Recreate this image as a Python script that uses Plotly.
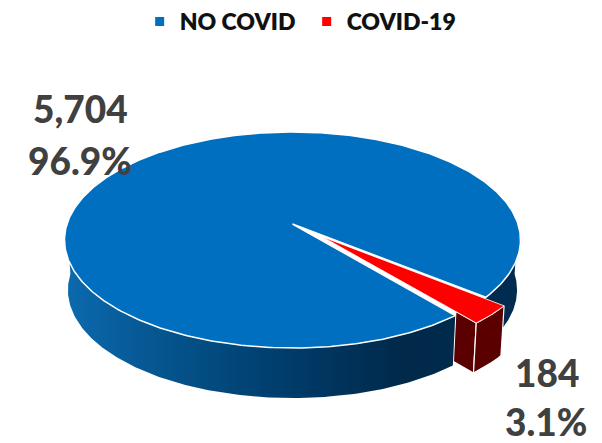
import numpy as np
import plotly.graph_objects as go

categories = ["NO COVID", "COVID-19"]
values = [5704, 184]
value_labels = ["5,704", "184"]
percent_labels = ["96.9%", "3.1%"]

# Drawing geometry of the perspective disc (page pixels)
CX, CY, RX, RY, A = 292.5, 240.0, 228.0, 108.0, -0.148
DEPTH, BOTTOM_SCALE = 50.0, 0.985
SLICE_CENTER = 44.6
EXPLODE = (0.129, 0.118)
SLICE_RADIUS = 0.917
WALL_FROM = 0.88
BLUE, RED = "#006FBF", "#FF0000"
DARK_RED = "#5A0000"
SIDE_SCALE = [[0, "#0B6AAE"], [0.21, "#05558F"], [0.45, "#003F6F"], [0.74, "#00294A"], [1, "#002C50"]]


def project(u, v, low=False):
    u, v = np.asarray(u, float), np.asarray(v, float)
    d = 1 + A * v
    x = RX * np.sqrt(1 - A * A) * u / d
    y = CY + RY * (v + A) / d
    if low:
        return CX + x * BOTTOM_SCALE, y + DEPTH
    return CX + x, y


def arc(a0, a1, radius=1.0, off=(0, 0), n=160):
    t = np.radians(np.linspace(a0, a1, n))
    return off[0] + radius * np.cos(t), off[1] + radius * np.sin(t)


def ring(a0, a1, radius=1.0, off=(0, 0)):
    u, v = arc(a0, a1, radius, off)
    x0, y0 = project(u, v)
    x1, y1 = project(u, v, low=True)
    return np.r_[x0, x1[::-1], x0[0]], np.r_[y0, y1[::-1], y0[0]]


span = 360 * values[1] / sum(values)
a_start, a_end = SLICE_CENTER - span / 2, SLICE_CENTER + span / 2

fig = go.Figure()

# radial wall of the pulled-out slice (only its part beyond the rim shows)
cos_e, sin_e = np.cos(np.radians(a_end)), np.sin(np.radians(a_end))
wu = EXPLODE[0] + SLICE_RADIUS * cos_e * np.array([WALL_FROM, 1.0])
wv = EXPLODE[1] + SLICE_RADIUS * sin_e * np.array([WALL_FROM, 1.0])
wx0, wy0 = project(wu, wv)
wx1, wy1 = project(wu, wv, low=True)
fig.add_trace(go.Scatter(x=np.r_[wx0, wx1[::-1], wx0[0]], y=np.r_[wy0, wy1[::-1], wy0[0]],
                         mode="lines", fill="toself", fillcolor=DARK_RED,
                         line=dict(color="white", width=1.2), showlegend=False, hoverinfo="skip"))

# blue side wall, split by the notch
lx, ly = ring(a_end, 180)
rx, ry = ring(0, a_start)
fig.add_trace(go.Scatter(x=np.r_[lx, None, rx], y=np.r_[ly, None, ry],
                         mode="lines", fill="toself", line=dict(width=0, color="rgba(0,0,0,0)"),
                         fillgradient=dict(type="horizontal", colorscale=SIDE_SCALE),
                         showlegend=False, hoverinfo="skip"))

# blue top
u, v = arc(a_end, a_start + 360, n=500)
tx, ty = project(np.r_[0, u, 0], np.r_[0, v, 0])
fig.add_trace(go.Scatter(x=tx, y=ty, mode="lines", fill="toself", fillcolor=BLUE,
                         line=dict(color="white", width=1.5), showlegend=False, hoverinfo="skip"))

# red outer face
fx, fy = ring(a_start, a_end, SLICE_RADIUS, EXPLODE)
fig.add_trace(go.Scatter(x=fx, y=fy, mode="lines", fill="toself", fillcolor=DARK_RED,
                         line=dict(color="white", width=1.2), showlegend=False, hoverinfo="skip"))

# red top
u, v = arc(a_start, a_end, SLICE_RADIUS, EXPLODE, n=40)
tx, ty = project(np.r_[EXPLODE[0], u, EXPLODE[0]], np.r_[EXPLODE[1], v, EXPLODE[1]])
fig.add_trace(go.Scatter(x=tx, y=ty, mode="lines", fill="toself", fillcolor=RED,
                         line=dict(color="white", width=0.8), showlegend=False, hoverinfo="skip"))

# legend entries
for name, col in zip(categories, [BLUE, RED]):
    fig.add_trace(go.Scatter(x=[None], y=[None], mode="markers", name=name,
                             marker=dict(symbol="square", size=9, color=col)))

label_pos = [((80, 108), (80, 160)), ((547, 372), (546, 421))]
for (p1, p2), vl, pl in zip(label_pos, value_labels, percent_labels):
    for p, t in ((p1, vl), (p2, pl)):
        fig.add_annotation(x=p[0], y=p[1], text=t, showarrow=False,
                           font=dict(family="Lato", size=37, color="#404040", weight=900))

fig.update_layout(
    width=602, height=443, margin=dict(l=0, r=0, t=0, b=0),
    paper_bgcolor="white", plot_bgcolor="white",
    xaxis=dict(range=[0, 602], visible=False, fixedrange=True),
    yaxis=dict(range=[443, 0], visible=False, fixedrange=True),
    legend=dict(orientation="h", x=0.232, xanchor="left", y=1.0, yanchor="top",
                font=dict(family="Lato", size=23, color="#111111", weight=800),
                itemwidth=30, entrywidth=122, bgcolor="rgba(0,0,0,0)"),
)
fig.write_html("out.html", config=dict(displayModeBar=False),
               post_script="document.body.style.margin='0';")
